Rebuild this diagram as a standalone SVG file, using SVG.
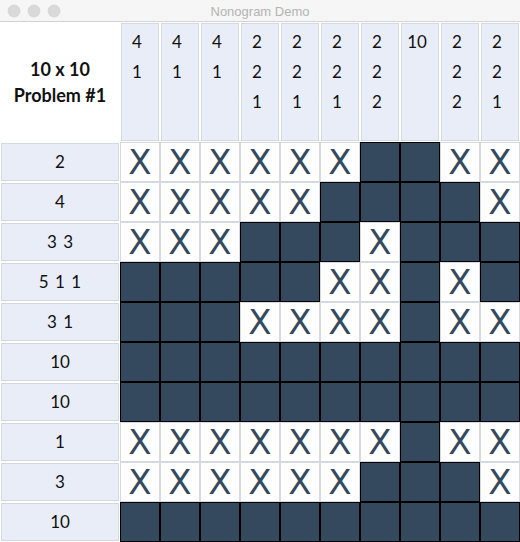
<svg xmlns="http://www.w3.org/2000/svg" width="520" height="542" viewBox="0 0 520 542">
<style>
.hdr{fill:#e9edf8;stroke:#d3d7e0;stroke-width:1}
.num{font-family:Lato,"Open Sans",sans-serif;font-size:17px;fill:#111}
.rl{word-spacing:2px}
.cw{fill:#ffffff;stroke:#d6d9e2;stroke-width:1}
.cf{fill:#34495e;stroke:#000000;stroke-width:1}
.x{font-family:"DejaVu Sans",Lato,sans-serif;font-size:34px;fill:#34495e;text-anchor:middle}
.ttl{font-family:"Liberation Sans",Arial,sans-serif;font-size:13px;fill:#b3b3b3;text-anchor:middle}
.dot{fill:#d9d9d9;stroke:#cdcdcd;stroke-width:0.6}
</style>
<rect x="0" y="0" width="520" height="542" fill="#ffffff"/>
<g id="titlebar">
<rect x="0" y="0" width="520" height="22" fill="#f6f6f6"/>
<line x1="0" y1="21.5" x2="520" y2="21.5" stroke="#d2d2d2" stroke-width="1"/>
<circle class="dot" cx="14" cy="11" r="6"/>
<circle class="dot" cx="34" cy="11" r="6"/>
<circle class="dot" cx="54" cy="11" r="6"/>
<text class="ttl" x="260" y="16">Nonogram Demo</text>
</g>
<g id="corner">
<text x="60" y="76" text-anchor="middle" font-family="Lato,'Open Sans',sans-serif" font-weight="bold" font-size="18" fill="#111">10 x 10</text>
<text x="60" y="102" text-anchor="middle" font-family="Lato,'Open Sans',sans-serif" font-weight="bold" font-size="18" fill="#111">Problem #1</text>
</g>
<g id="column-clues" class="num" text-anchor="middle">
<g id="col0"><rect class="hdr" x="121.5" y="23.5" width="37" height="117"/><text x="137" y="48.3">4</text><text x="137" y="78.3">1</text></g>
<g id="col1"><rect class="hdr" x="161.5" y="23.5" width="37" height="117"/><text x="177" y="48.3">4</text><text x="177" y="78.3">1</text></g>
<g id="col2"><rect class="hdr" x="201.5" y="23.5" width="37" height="117"/><text x="217" y="48.3">4</text><text x="217" y="78.3">1</text></g>
<g id="col3"><rect class="hdr" x="241.5" y="23.5" width="37" height="117"/><text x="257" y="48.3">2</text><text x="257" y="78.3">2</text><text x="257" y="108.3">1</text></g>
<g id="col4"><rect class="hdr" x="281.5" y="23.5" width="37" height="117"/><text x="297" y="48.3">2</text><text x="297" y="78.3">2</text><text x="297" y="108.3">1</text></g>
<g id="col5"><rect class="hdr" x="321.5" y="23.5" width="37" height="117"/><text x="337" y="48.3">2</text><text x="337" y="78.3">2</text><text x="337" y="108.3">1</text></g>
<g id="col6"><rect class="hdr" x="361.5" y="23.5" width="37" height="117"/><text x="377" y="48.3">2</text><text x="377" y="78.3">2</text><text x="377" y="108.3">2</text></g>
<g id="col7"><rect class="hdr" x="401.5" y="23.5" width="37" height="117"/><text x="417" y="48.3">10</text></g>
<g id="col8"><rect class="hdr" x="441.5" y="23.5" width="37" height="117"/><text x="457" y="48.3">2</text><text x="457" y="78.3">2</text><text x="457" y="108.3">2</text></g>
<g id="col9"><rect class="hdr" x="481.5" y="23.5" width="37" height="117"/><text x="497" y="48.3">2</text><text x="497" y="78.3">2</text><text x="497" y="108.3">1</text></g>
</g>
<g id="row-clues" class="num rl" text-anchor="middle">
<g id="row0"><rect class="hdr" x="1.5" y="143.5" width="117" height="37"/><text x="60" y="168.3">2</text></g>
<g id="row1"><rect class="hdr" x="1.5" y="183.5" width="117" height="37"/><text x="60" y="208.3">4</text></g>
<g id="row2"><rect class="hdr" x="1.5" y="223.5" width="117" height="37"/><text x="60" y="248.3">3 3</text></g>
<g id="row3"><rect class="hdr" x="1.5" y="263.5" width="117" height="37"/><text x="60" y="288.3">5 1 1</text></g>
<g id="row4"><rect class="hdr" x="1.5" y="303.5" width="117" height="37"/><text x="60" y="328.3">3 1</text></g>
<g id="row5"><rect class="hdr" x="1.5" y="343.5" width="117" height="37"/><text x="60" y="368.3">10</text></g>
<g id="row6"><rect class="hdr" x="1.5" y="383.5" width="117" height="37"/><text x="60" y="408.3">10</text></g>
<g id="row7"><rect class="hdr" x="1.5" y="423.5" width="117" height="37"/><text x="60" y="448.3">1</text></g>
<g id="row8"><rect class="hdr" x="1.5" y="463.5" width="117" height="37"/><text x="60" y="488.3">3</text></g>
<g id="row9"><rect class="hdr" x="1.5" y="503.5" width="117" height="37"/><text x="60" y="528.3">10</text></g>
</g>
<defs>
<g id="w"><rect class="cw" x="0.5" y="0.5" width="39" height="39"/><text class="x" x="20" y="32.3">X</text></g>
<rect id="f" class="cf" x="0.5" y="0.5" width="39" height="39"/>
</defs>
<g id="grid">
<g id="r0">
<use href="#w" x="120" y="142"/><use href="#w" x="160" y="142"/><use href="#w" x="200" y="142"/><use href="#w" x="240" y="142"/><use href="#w" x="280" y="142"/><use href="#w" x="320" y="142"/><use href="#f" x="360" y="142"/><use href="#f" x="400" y="142"/><use href="#w" x="440" y="142"/><use href="#w" x="480" y="142"/>
</g>
<g id="r1">
<use href="#w" x="120" y="182"/><use href="#w" x="160" y="182"/><use href="#w" x="200" y="182"/><use href="#w" x="240" y="182"/><use href="#w" x="280" y="182"/><use href="#f" x="320" y="182"/><use href="#f" x="360" y="182"/><use href="#f" x="400" y="182"/><use href="#f" x="440" y="182"/><use href="#w" x="480" y="182"/>
</g>
<g id="r2">
<use href="#w" x="120" y="222"/><use href="#w" x="160" y="222"/><use href="#w" x="200" y="222"/><use href="#f" x="240" y="222"/><use href="#f" x="280" y="222"/><use href="#f" x="320" y="222"/><use href="#w" x="360" y="222"/><use href="#f" x="400" y="222"/><use href="#f" x="440" y="222"/><use href="#f" x="480" y="222"/>
</g>
<g id="r3">
<use href="#f" x="120" y="262"/><use href="#f" x="160" y="262"/><use href="#f" x="200" y="262"/><use href="#f" x="240" y="262"/><use href="#f" x="280" y="262"/><use href="#w" x="320" y="262"/><use href="#w" x="360" y="262"/><use href="#f" x="400" y="262"/><use href="#w" x="440" y="262"/><use href="#f" x="480" y="262"/>
</g>
<g id="r4">
<use href="#f" x="120" y="302"/><use href="#f" x="160" y="302"/><use href="#f" x="200" y="302"/><use href="#w" x="240" y="302"/><use href="#w" x="280" y="302"/><use href="#w" x="320" y="302"/><use href="#w" x="360" y="302"/><use href="#f" x="400" y="302"/><use href="#w" x="440" y="302"/><use href="#w" x="480" y="302"/>
</g>
<g id="r5">
<use href="#f" x="120" y="342"/><use href="#f" x="160" y="342"/><use href="#f" x="200" y="342"/><use href="#f" x="240" y="342"/><use href="#f" x="280" y="342"/><use href="#f" x="320" y="342"/><use href="#f" x="360" y="342"/><use href="#f" x="400" y="342"/><use href="#f" x="440" y="342"/><use href="#f" x="480" y="342"/>
</g>
<g id="r6">
<use href="#f" x="120" y="382"/><use href="#f" x="160" y="382"/><use href="#f" x="200" y="382"/><use href="#f" x="240" y="382"/><use href="#f" x="280" y="382"/><use href="#f" x="320" y="382"/><use href="#f" x="360" y="382"/><use href="#f" x="400" y="382"/><use href="#f" x="440" y="382"/><use href="#f" x="480" y="382"/>
</g>
<g id="r7">
<use href="#w" x="120" y="422"/><use href="#w" x="160" y="422"/><use href="#w" x="200" y="422"/><use href="#w" x="240" y="422"/><use href="#w" x="280" y="422"/><use href="#w" x="320" y="422"/><use href="#w" x="360" y="422"/><use href="#f" x="400" y="422"/><use href="#w" x="440" y="422"/><use href="#w" x="480" y="422"/>
</g>
<g id="r8">
<use href="#w" x="120" y="462"/><use href="#w" x="160" y="462"/><use href="#w" x="200" y="462"/><use href="#w" x="240" y="462"/><use href="#w" x="280" y="462"/><use href="#w" x="320" y="462"/><use href="#f" x="360" y="462"/><use href="#f" x="400" y="462"/><use href="#f" x="440" y="462"/><use href="#w" x="480" y="462"/>
</g>
<g id="r9">
<use href="#f" x="120" y="502"/><use href="#f" x="160" y="502"/><use href="#f" x="200" y="502"/><use href="#f" x="240" y="502"/><use href="#f" x="280" y="502"/><use href="#f" x="320" y="502"/><use href="#f" x="360" y="502"/><use href="#f" x="400" y="502"/><use href="#f" x="440" y="502"/><use href="#f" x="480" y="502"/>
</g>
</g>
</svg>
